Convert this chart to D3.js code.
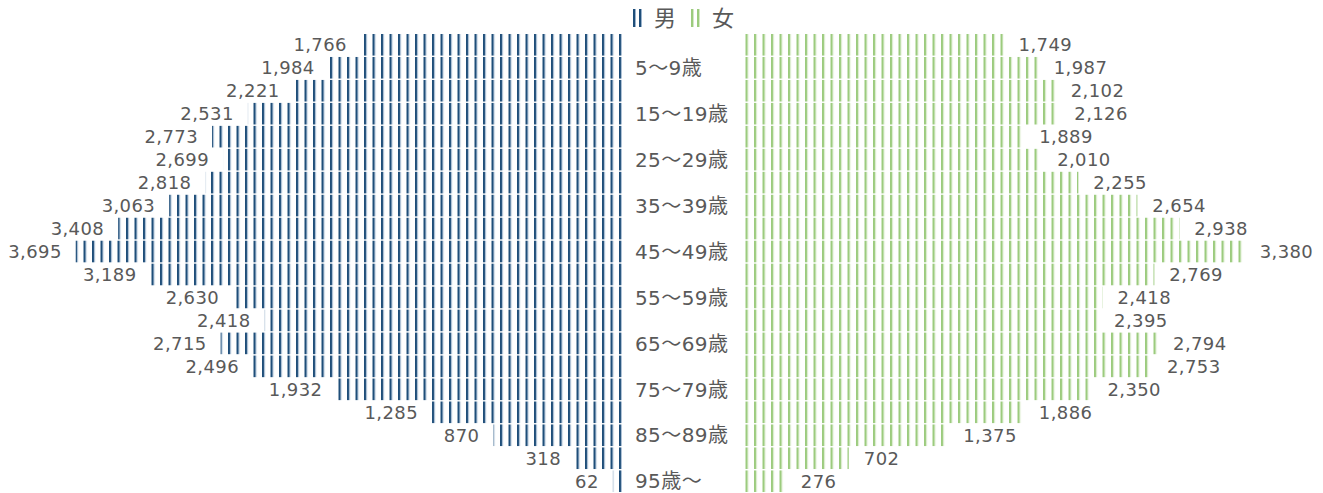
<!DOCTYPE html>
<html>
<head>
<meta charset="utf-8">
<script src="https://cdn.jsdelivr.net/npm/d3@7"></script>
<style>
  body { margin: 0; background: #fff; }
  text { font-family: "DejaVu Sans", Verdana, sans-serif; fill: #595959; }
  .cjk { font-family: "Noto Sans CJK JP", sans-serif; }
</style>
</head>
<body>
<svg id="chart" width="1323" height="493"></svg>
<script>
var ages = ["0～4歳","5～9歳","10～14歳","15～19歳","20～24歳","25～29歳","30～34歳","35～39歳",
            "40～44歳","45～49歳","50～54歳","55～59歳","60～64歳","65～69歳","70～74歳","75～79歳",
            "80～84歳","85～89歳","90～94歳","95歳～"];
var male = [1766,1984,2221,2531,2773,2699,2818,3063,3408,3695,3189,2630,2418,2715,2496,1932,1285,870,318,62];
var female = [1749,1987,2102,2126,1889,2010,2255,2654,2938,3380,2769,2418,2395,2794,2753,2350,1886,1375,702,276];

var svg = d3.select("#chart");
var mRight = 622, fLeft = 745;

var y = d3.scaleBand()
    .domain(ages)
    .range([34, 492])
    .paddingInner(0.06);

var xm = d3.scaleLinear().domain([0, 3700]).range([0, 547]);
var xf = d3.scaleLinear().domain([0, 3700]).range([0, 547]);

var fmt = d3.format(",");

// stripe patterns
var defs = svg.append("defs");
function stripes(id, dark, light, offset, w){
    var p = defs.append("pattern")
        .attr("id", id)
        .attr("patternUnits", "userSpaceOnUse")
        .attr("width", w)
        .attr("height", 10)
        .attr("patternTransform", "translate(" + offset + ",0)");
    p.append("rect").attr("x", 0).attr("y", 0).attr("width", 2).attr("height", 10).attr("fill", dark);
    p.append("rect").attr("x", 2).attr("y", 0).attr("width", 1).attr("height", 10).attr("fill", light);
}
stripes("pm", "#1f4e79", "#9bb3cc", mRight - 3, 8.5);
stripes("pf", "#9ccb7e", "#d4e9c6", fLeft + 0.5, 8.5);
stripes("lm", "#1f4e79", "#9bb3cc", 633, 6);
stripes("lf", "#9ccb7e", "#d4e9c6", 697, 6);

// male bars
svg.selectAll(".m")
    .data(male)
    .enter()
    .append("rect")
    .attr("class", "m")
    .attr("x", function(d){ return mRight - xm(d); })
    .attr("y", function(d, i){ return y(ages[i]); })
    .attr("width", function(d){ return xm(d); })
    .attr("height", y.bandwidth())
    .attr("fill", "url(#pm)");

svg.selectAll(".ml")
    .data(male)
    .enter()
    .append("text")
    .attr("class", "ml")
    .attr("x", function(d){ return mRight - xm(d) - 14; })
    .attr("y", function(d, i){ return y(ages[i]) + y.bandwidth() / 2; })
    .attr("dy", "0.36em")
    .attr("text-anchor", "end")
    .style("font-size", "18px")
    .style("letter-spacing", "0.4px")
    .text(function(d){ return fmt(d); });

// female bars
svg.selectAll(".f")
    .data(female)
    .enter()
    .append("rect")
    .attr("class", "f")
    .attr("x", fLeft)
    .attr("y", function(d, i){ return y(ages[i]); })
    .attr("width", function(d){ return xf(d); })
    .attr("height", y.bandwidth())
    .attr("fill", "url(#pf)");

svg.selectAll(".fl")
    .data(female)
    .enter()
    .append("text")
    .attr("class", "fl")
    .attr("x", function(d){ return fLeft + xf(d) + 15; })
    .attr("y", function(d, i){ return y(ages[i]) + y.bandwidth() / 2; })
    .attr("dy", "0.36em")
    .style("font-size", "18px")
    .style("letter-spacing", "0.4px")
    .text(function(d){ return fmt(d); });

// age labels, every other one; the wide tilde from the CJK font
var age = svg.selectAll(".age")
    .data(ages.filter(function(d, i){ return i % 2 == 1; }))
    .enter()
    .append("text")
    .attr("class", "age")
    .attr("x", 635)
    .attr("y", function(d){ return y(d) + y.bandwidth() / 2; })
    .attr("dy", "0.36em")
    .style("font-size", "20px")
    .style("letter-spacing", "0.4px");
age.each(function(d){
    var t = d3.select(this);
    d.split(/(～|歳)/).forEach(function(s){
        if (!s) return;
        var sp = t.append("tspan").text(s);
        if (s == "～" || s == "歳") sp.attr("class", "cjk");
    });
});

// legend
var legend = [{name: "男", fill: "url(#lm)", x: 632}, {name: "女", fill: "url(#lf)", x: 690}];
var lg = svg.selectAll(".lg")
    .data(legend)
    .enter()
    .append("g")
    .attr("class", "lg");
lg.append("rect")
    .attr("x", function(d){ return d.x; })
    .attr("y", 9)
    .attr("width", 11)
    .attr("height", 18)
    .attr("fill", function(d){ return d.fill; });
lg.append("text")
    .attr("class", "cjk")
    .attr("x", function(d){ return d.x + 22; })
    .attr("y", 18)
    .attr("dy", "0.36em")
    .style("font-size", "22px")
    .text(function(d){ return d.name; });
</script>
</body>
</html>
